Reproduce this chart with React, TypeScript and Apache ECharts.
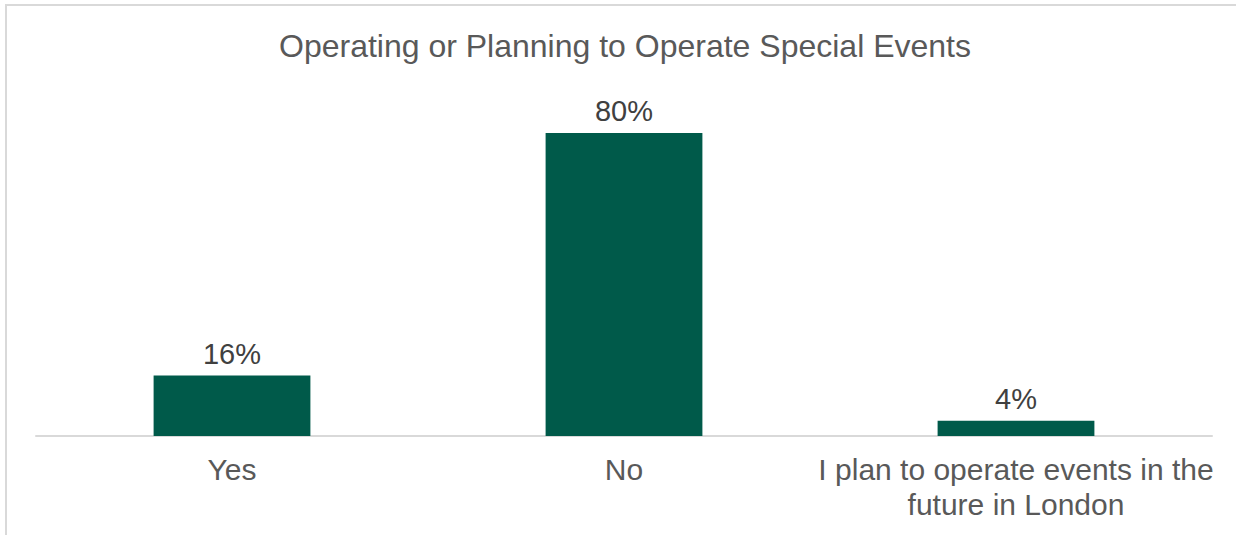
import React, { useEffect, useRef } from "react";
import * as echarts from "echarts";

const categories = ["Yes", "No", "I plan to operate events in the\nfuture in London"];
const values = [16, 80, 4];
const titleText = "Operating or Planning to Operate Special Events";

export default function App() {
  const ref = useRef<HTMLDivElement>(null);
  useEffect(() => {
    const chart = echarts.init(ref.current!, null, { renderer: "svg" });
    chart.setOption({
      animation: false,
      backgroundColor: "#ffffff",
      title: {
        text: titleText,
        left: 274,
        top: 25,
        textStyle: { color: "#595959", fontSize: 32, fontWeight: "normal", fontFamily: "Liberation Sans, Arial, sans-serif" },
      },
      graphic: [
        {
          type: "rect",
          shape: { x: 6, y: 5, width: 1300, height: 600 },
          style: { fill: "none", stroke: "#d9d9d9", lineWidth: 2 },
          silent: true,
        },
      ],
      grid: { left: 36, right: 24, top: 95, bottom: 99 },
      xAxis: {
        type: "category",
        data: categories,
        axisLine: { show: true, lineStyle: { color: "#d9d9d9", width: 2 } },
        axisTick: { show: false },
        axisLabel: {
          color: "#595959",
          fontSize: 30,
          lineHeight: 35,
          margin: 16,
          fontFamily: "Liberation Sans, Arial, sans-serif",
          interval: 0,
        },
      },
      yAxis: {
        type: "value",
        min: 0,
        max: 90,
        show: false,
        splitLine: { show: false },
      },
      series: [
        {
          type: "bar",
          data: values,
          barWidth: "40%",
          itemStyle: { color: "#005A4A" },
          label: {
            show: true,
            position: "top",
            distance: 7,
            formatter: "{c}%",
            color: "#404040",
            fontSize: 29,
            fontFamily: "Liberation Sans, Arial, sans-serif",
          },
        },
      ],
    });
    return () => chart.dispose();
  }, []);
  return <div ref={ref} style={{ width: 1236, height: 535, position: "absolute", left: 0, top: 0 }} />;
}
